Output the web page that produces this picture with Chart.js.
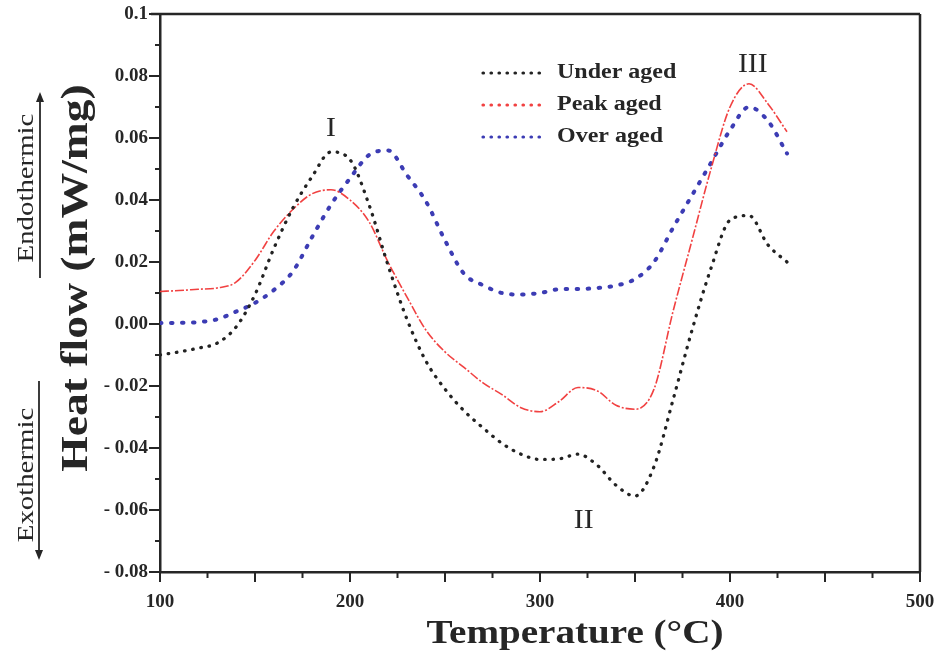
<!DOCTYPE html>
<html>
<head>
<meta charset="utf-8">
<script src="https://cdn.jsdelivr.net/npm/chart.js@4.4.0/dist/chart.umd.min.js"></script>
<style>
  html, body { margin: 0; padding: 0; background: #fff; }
  #wrap { width: 937px; height: 657px; position: relative; }
</style>
</head>
<body>
<div id="wrap"><canvas id="dscChart"></canvas></div>
<script>
// DSC curves, values (temperature in °C, heat flow in mW/mg)
const temps = [100, 110, 120, 130, 140, 150, 160, 170, 180, 190, 200, 210, 220, 230, 240, 250, 260,
               270, 280, 290, 300, 310, 320, 330, 340, 350, 360, 370, 380, 390, 400, 410, 420, 430];

const underAged = [-0.0100, -0.0090, -0.0078, -0.0062, -0.0010, 0.0095, 0.0245, 0.0375, 0.0475, 0.0555,
                   0.0530, 0.0385, 0.0190, 0.0015, -0.0120, -0.0210, -0.0280, -0.0335, -0.0385, -0.0420,
                   -0.0437, -0.0435, -0.0420, -0.0455, -0.0520, -0.0555, -0.0460, -0.0245, -0.0020, 0.0180,
                   0.0335, 0.0350, 0.0255, 0.0200];

const peakAged = [0.0105, 0.0108, 0.0112, 0.0116, 0.0135, 0.0205, 0.0300, 0.0370, 0.0420, 0.0433,
                  0.0400, 0.0330, 0.0200, 0.0087, -0.0020, -0.0090, -0.0140, -0.0190, -0.0228, -0.0270,
                  -0.0283, -0.0250, -0.0205, -0.0215, -0.0262, -0.0275, -0.0210, 0.0040, 0.0270, 0.0500,
                  0.0700, 0.0775, 0.0710, 0.0620];

const overAged = [0.0003, 0.0004, 0.0006, 0.0015, 0.0040, 0.0068, 0.0110, 0.0170, 0.0280, 0.0385,
                  0.0470, 0.0545, 0.0560, 0.0480, 0.0395, 0.0270, 0.0162, 0.0125, 0.0100, 0.0095,
                  0.0100, 0.0112, 0.0113, 0.0116, 0.0124, 0.0145, 0.0200, 0.0310, 0.0415, 0.0520,
                  0.0625, 0.0700, 0.0655, 0.0550];

const seriesNames = ["Under aged", "Peak aged", "Over aged"];

// peak markers (roman numerals) anchored in data units
const peakMarks = [
  { text: "I",   t: 190, v: 0.0630 },
  { text: "II",  t: 323, v: -0.0635 },
  { text: "III", t: 412, v: 0.0835 }
];

const SERIF = "'Liberation Serif', 'Times New Roman', serif";
const INK = "#262626";

function toPoints(values) {
  return temps.map((t, i) => ({ x: t, y: values[i] }));
}

// text helper: the source figure is a bit wider than tall, so text gets a horizontal stretch
function drawText(ctx, text, x, y, font, opts = {}) {
  ctx.save();
  ctx.translate(x, y);
  if (opts.rotate) ctx.rotate(opts.rotate);
  ctx.scale(opts.sx || 1, 1);
  ctx.font = font;
  ctx.fillStyle = INK;
  ctx.textAlign = opts.align || "center";
  ctx.textBaseline = opts.baseline || "middle";
  ctx.fillText(text, 0, 0);
  ctx.restore();
}

function line(ctx, x1, y1, x2, y2) {
  ctx.beginPath();
  ctx.moveTo(x1, y1);
  ctx.lineTo(x2, y2);
  ctx.stroke();
}

function arrowHead(ctx, x, y, dir) {
  ctx.beginPath();
  ctx.moveTo(x, y);
  ctx.lineTo(x - 4, y - dir * 10);
  ctx.lineTo(x + 4, y - dir * 10);
  ctx.closePath();
  ctx.fill();
}

// 🖊️ ticks, frame, titles, legend and peak labels
const decorations = {
  id: "decorations",
  afterDraw(chart) {
    const ctx = chart.ctx;
    const area = chart.chartArea;
    const xs = chart.scales.x;
    const ys = chart.scales.y;

    ctx.save();
    ctx.strokeStyle = INK;
    ctx.fillStyle = INK;
    ctx.lineWidth = 2;

    // x ticks every 25, longer on the 50s
    for (let t = xs.min; t <= xs.max; t += 25) {
      const px = xs.getPixelForValue(t);
      line(ctx, px, area.bottom, px, area.bottom + (t % 50 === 0 ? 10 : 6));
    }
    // y ticks every 0.01, longer on the labelled ones
    for (let k = Math.round(ys.min * 100); k <= Math.round(ys.max * 100); k++) {
      const py = ys.getPixelForValue(k / 100);
      line(ctx, area.left - (k % 2 === 0 ? 11 : 5), py, area.left, py);
    }
    // top and right frame
    ctx.lineWidth = 2.5;
    line(ctx, area.left - 9, area.top, area.right, area.top);
    line(ctx, area.right, area.top, area.right, area.bottom);

    // axis titles
    drawText(ctx, "Temperature (°C)", 575, 634, "bold 34px " + SERIF, { sx: 1.15 });
    drawText(ctx, "Heat flow (mW/mg)", 87, 278, "bold 38px " + SERIF,
      { rotate: -Math.PI / 2, sx: 1.2, baseline: "alphabetic" });

    // endo / exo hints with arrows
    drawText(ctx, "Endothermic", 33, 188, "24px " + SERIF,
      { rotate: -Math.PI / 2, sx: 1.2, baseline: "alphabetic" });
    drawText(ctx, "Exothermic", 33, 475, "24px " + SERIF,
      { rotate: -Math.PI / 2, sx: 1.2, baseline: "alphabetic" });
    ctx.lineWidth = 1.8;
    line(ctx, 40, 278, 40, 100);
    arrowHead(ctx, 40, 92, -1);
    line(ctx, 39, 381, 39, 552);
    arrowHead(ctx, 39, 560, 1);

    // legend built from the datasets
    chart.data.datasets.forEach((ds, i) => {
      const ly = 73 + i * 32;
      ctx.save();
      ctx.strokeStyle = ds.borderColor;
      ctx.lineWidth = 3.2;
      ctx.lineCap = "round";
      ctx.setLineDash([0.5, 7.5]);
      line(ctx, 483, ly, 545, ly);
      ctx.restore();
      drawText(ctx, ds.label, 557, ly, "bold 20px " + SERIF, { align: "left", sx: 1.2 });
    });

    // peak numerals
    peakMarks.forEach(m => {
      drawText(ctx, m.text, xs.getPixelForValue(m.t), ys.getPixelForValue(m.v),
        "27px " + SERIF, { sx: 1.1 });
    });

    ctx.restore();
  }
};

const tickFont = { family: SERIF, size: 19, weight: "bold" };

function formatHeat(value) {
  const k = Math.round(value * 100);
  if (k % 2 !== 0) return "";
  if (k === 10) return "0.1";
  if (k === 0) return "0.00";
  const s = (Math.abs(k) / 100).toFixed(2);
  return k < 0 ? "- " + s : s;
}

const ctx = document.getElementById("dscChart").getContext("2d");
const dscChart = new Chart(ctx, {
  type: "line",
  data: {
    datasets: [
      {
        label: seriesNames[0],
        data: toPoints(underAged),
        borderColor: "#222222",
        borderWidth: 3.3,
        borderCapStyle: "round",
        borderDash: [0.5, 7.8]
      },
      {
        label: seriesNames[1],
        data: toPoints(peakAged),
        borderColor: "rgba(240, 55, 55, 0.95)",
        borderWidth: 1.6,
        borderDash: [9, 2, 2, 2]
      },
      {
        label: seriesNames[2],
        data: toPoints(overAged),
        borderColor: "#3c3cb4",
        borderWidth: 4,
        borderCapStyle: "round",
        borderDash: [1.5, 9.5]
      }
    ]
  },
  options: {
    responsive: true,
    maintainAspectRatio: false,
    animation: false,
    layout: { padding: { left: 0, right: 17, top: 14, bottom: 0 } },
    elements: {
      point: { radius: 0 },
      line: { tension: 0.4, cubicInterpolationMode: "monotone", fill: false }
    },
    plugins: {
      legend: { display: false },
      tooltip: { enabled: false }
    },
    scales: {
      x: {
        type: "linear",
        min: 100,
        max: 500,
        grid: { display: false },
        border: { display: true, color: INK, width: 2.5 },
        ticks: { stepSize: 100, color: INK, font: tickFont, padding: 11, maxRotation: 0 },
        afterFit: (scale) => {
          scale.height = 85;
          scale.paddingLeft = 0;
          scale.paddingRight = 0;
        }
      },
      y: {
        min: -0.08,
        max: 0.1,
        grid: { display: false },
        border: { display: true, color: INK, width: 2.5 },
        ticks: { stepSize: 0.01, autoSkip: false, color: INK, font: tickFont, padding: 4, callback: formatHeat },
        afterFit: (scale) => {
          scale.width = 160;
          scale.paddingTop = 0;
          scale.paddingBottom = 0;
        }
      }
    }
  },
  plugins: [decorations]
});
</script>
</body>
</html>
